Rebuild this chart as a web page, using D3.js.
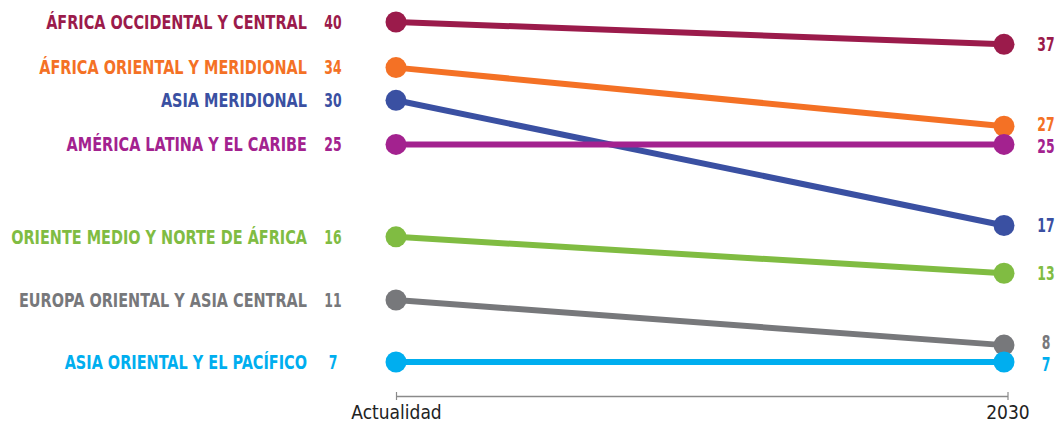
<!DOCTYPE html>
<html>
<head>
<meta charset="utf-8">
<script src="https://cdn.jsdelivr.net/npm/d3@7/dist/d3.min.js"></script>
<style>
  html, body { margin: 0; padding: 0; background: #fff; }
  svg { display: block; }
  .name, .val { font-family: "DejaVu Sans", sans-serif; font-weight: bold; font-size: 19px; }
  .axis text { font-family: "Liberation Sans Narrow", "DejaVu Sans Condensed", "Roboto", sans-serif; font-size: 19px; fill: #222; }
</style>
</head>
<body>
<svg id="chart" width="1056" height="422"></svg>
<script>
const periods = ["Actualidad", "2030"];
const regions = [
  "ÁFRICA OCCIDENTAL Y CENTRAL",
  "ÁFRICA ORIENTAL Y MERIDIONAL",
  "ASIA MERIDIONAL",
  "AMÉRICA LATINA Y EL CARIBE",
  "ORIENTE MEDIO Y NORTE DE ÁFRICA",
  "EUROPA ORIENTAL Y ASIA CENTRAL",
  "ASIA ORIENTAL Y EL PACÍFICO"
];
const valuesNow = [40, 34, 30, 25, 16, 11, 7];
const values2030 = [37, 27, 17, 25, 13, 8, 7];
const colors = ["#9b1b4b", "#f47125", "#3a50a2", "#a3228f", "#80bc42", "#77787b", "#00aeef"];

const svg = d3.select("#chart");

const x = d3.scalePoint().domain(periods).range([396, 1004]);
const y = d3.scalePow().exponent(0.5).domain([7, 40]).range([362, 22]);

const rows = regions.map((name, i) => ({
  name, color: colors[i], v0: valuesNow[i], v1: values2030[i]
}));

// axis
const axis = d3.axisBottom(x).tickSizeInner(8).tickSizeOuter(0).tickPadding(2);
const gAxis = svg.append("g").attr("class", "axis").attr("transform", "translate(0,392)").call(axis);
gAxis.select(".domain").attr("stroke", "#8a8a8a").attr("stroke-width", 1.5).attr("transform", "translate(0,4)")
  .attr("d", `M${x("Actualidad")},0.5H${x("2030") + 4}`);
gAxis.selectAll(".tick line").attr("stroke", "#8a8a8a").attr("stroke-width", 1.2);
gAxis.selectAll(".tick").filter(d => d === "2030").attr("transform", `translate(${x("2030") + 4},0)`);
gAxis.selectAll(".tick text").attr("dy", "0.9em");

// lines
const line = d3.line().x(d => x(d[0])).y(d => y(d[1]));
svg.append("g").selectAll("path").data(rows).join("path")
  .attr("d", d => line([[periods[0], d.v0], [periods[1], d.v1]]))
  .attr("stroke", d => d.color).attr("stroke-width", 6).attr("fill", "none");

// dots
const dots = svg.append("g");
rows.forEach(d => {
  dots.append("circle").attr("cx", x(periods[0])).attr("cy", y(d.v0)).attr("r", 10.5).attr("fill", d.color);
  dots.append("circle").attr("cx", x(periods[1])).attr("cy", y(d.v1)).attr("r", 10.5).attr("fill", d.color);
});

// label dodging: keep labels at least minGap apart
function dodge(ys, minGap) {
  const idx = ys.map((v, i) => i).sort((a, b) => ys[a] - ys[b]);
  const out = ys.slice();
  for (let it = 0; it < 50; it++) {
    let moved = false;
    for (let k = 1; k < idx.length; k++) {
      const a = idx[k - 1], b = idx[k];
      const gap = out[b] - out[a];
      if (gap < minGap) {
        const push = (minGap - gap) / 2;
        out[a] -= push; out[b] += push; moved = true;
      }
    }
    if (!moved) break;
  }
  return out;
}
const leftY = dodge(rows.map(d => y(d.v0)), 22);
const rightY = dodge(rows.map(d => y(d.v1)), 22);

// labels drawn in groups that are horizontally squeezed to emulate a condensed bold face
function labels(cls, xPos, ys, anchor, textFn) {
  const g = svg.append("g").selectAll("g").data(rows).join("g");
  g.append("text").attr("class", cls).attr("x", 0).attr("y", 0).attr("dy", "0.36em")
    .attr("text-anchor", anchor).attr("fill", d => d.color).text(textFn);
  g.attr("data-x", xPos).attr("data-y", (d, i) => ys[i]);
  return g;
}
const names = labels("name", 307, leftY, "end", d => d.name);
const leftVals = labels("val", 333, leftY, "middle", d => d.v0);
const rightVals = labels("val", 1046, rightY, "middle", d => d.v1);

const natural = names.select("text").node().getComputedTextLength();
const squeeze = Math.min(1, 261 / natural);
const digitSqueeze = squeeze * 0.86;
function place(g, sx) {
  g.attr("transform", function () {
    return `translate(${this.getAttribute("data-x")},${this.getAttribute("data-y")}) scale(${sx},1)`;
  });
}
place(names, squeeze);
place(leftVals, digitSqueeze);
place(rightVals, digitSqueeze);
</script>
</body>
</html>
